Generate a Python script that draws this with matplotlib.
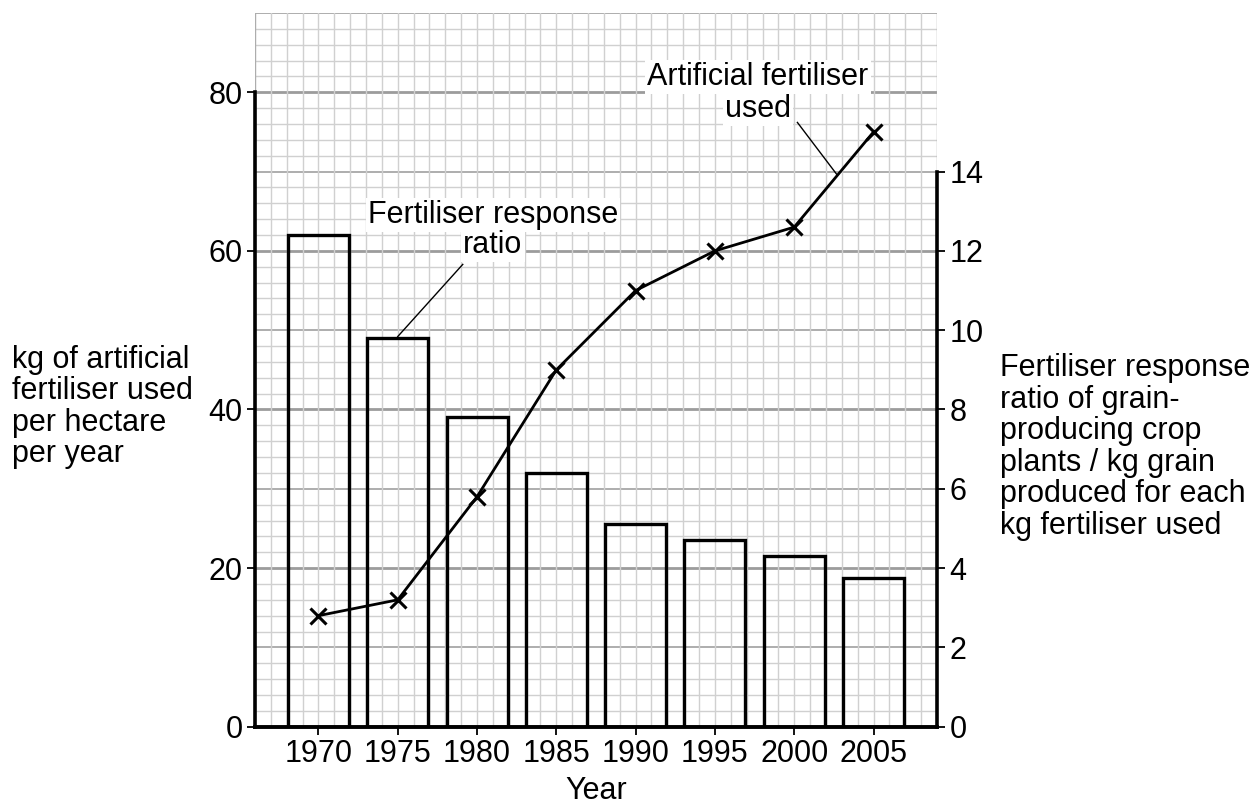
import numpy as np
import matplotlib
matplotlib.use("Agg")
import matplotlib.pyplot as plt

plt.rcParams["font.family"] = ["Liberation Sans", "DejaVu Sans"]

years = [1970, 1975, 1980, 1985, 1990, 1995, 2000, 2005]
# kg of artificial fertiliser per hectare per year (left axis, line)
fertiliser_used = [14, 16, 29, 45, 55, 60, 63, 75]
# fertiliser response ratio (right axis, bars)
response_ratio = [12.4, 9.8, 7.8, 6.4, 5.1, 4.7, 4.3, 3.75]

left_ticks = [0, 20, 40, 60, 80]
right_ticks = [0, 2, 4, 6, 8, 10, 12, 14]

FS = 22

fig = plt.figure(figsize=(12.58, 8.07), dpi=100)
ax = fig.add_axes([0.2027, 0.0995, 0.5421, 0.8844])
ax.set_xlim(1966, 2009)
ax.set_ylim(0, 90)

# graph paper grid
for y in np.arange(0, 91, 2):
    if y % 20 == 0:
        c, lw = "#9c9c9c", 2.0
    elif y % 10 == 0:
        c, lw = "#adadad", 1.4
    else:
        c, lw = "#d0d0d0", 1.0
    ax.axhline(y, color=c, lw=lw, zorder=0)
for x in range(1966, 2010):
    c = "#adadad" if x in (1966, 2009) else "#d0d0d0"
    ax.axvline(x, color=c, lw=1.0, zorder=0)

ax.plot(years, fertiliser_used, color="black", lw=2.0, marker="x",
        ms=12, mew=2.2, zorder=5)

ax.spines["top"].set_visible(False)
ax.spines["right"].set_visible(False)
ax.spines["left"].set_bounds(0, 80)
ax.spines["left"].set_linewidth(2.6)
ax.spines["bottom"].set_linewidth(2.8)
ax.set_yticks(left_ticks)
ax.set_xticks(years)
ax.tick_params(axis="both", labelsize=FS, length=6, width=1.3, pad=3)
ax.set_xlabel("Year", fontsize=FS, labelpad=5)

ax2 = ax.twinx()
ax2.set_ylim(0, 18)
ax2.bar(years, response_ratio, width=3.85, fill=False, edgecolor="black",
        lw=2.4, zorder=3)
ax2.spines["top"].set_visible(False)
ax2.spines["left"].set_visible(False)
ax2.spines["bottom"].set_visible(False)
ax2.spines["right"].set_bounds(0, 14)
ax2.spines["right"].set_linewidth(2.6)
ax2.set_yticks(right_ticks)
ax2.tick_params(axis="y", labelsize=FS, length=6, width=1.3, pad=3)

# labels on the graph
box = dict(facecolor="white", edgecolor="none", pad=1.5)
ax2.text(1981.0, 64.5 / 5, "Fertiliser response", fontsize=FS,
         ha="center", va="center", bbox=box, zorder=6)
ax2.text(1981.0, 60.7 / 5, "ratio", fontsize=FS,
         ha="center", va="center", bbox=box, zorder=6)
ax2.plot([1979.1, 1975.0], [58.3 / 5, 49.2 / 5], color="black", lw=1.0,
         zorder=6)
ax2.text(1997.7, 81.9 / 5, "Artificial fertiliser", fontsize=FS,
         ha="center", va="center", bbox=box, zorder=6)
ax2.text(1997.7, 77.9 / 5, "used", fontsize=FS,
         ha="center", va="center", bbox=box, zorder=6)
ax2.plot([2000.2, 2002.7], [76.2 / 5, 69.6 / 5], color="black", lw=1.0,
         zorder=6)

fig.text(12 / 1258, 1 - 407 / 807,
         "kg of artificial\nfertiliser used\nper hectare\nper year",
         fontsize=FS, ha="left", va="center", linespacing=1.07)
fig.text(1000 / 1258, 1 - 447 / 807,
         "Fertiliser response\nratio of grain-\nproducing crop\n"
         "plants / kg grain\nproduced for each\nkg fertiliser used",
         fontsize=FS, ha="left", va="center", linespacing=1.07)

fig.savefig("out.png", dpi=100, facecolor="white")
